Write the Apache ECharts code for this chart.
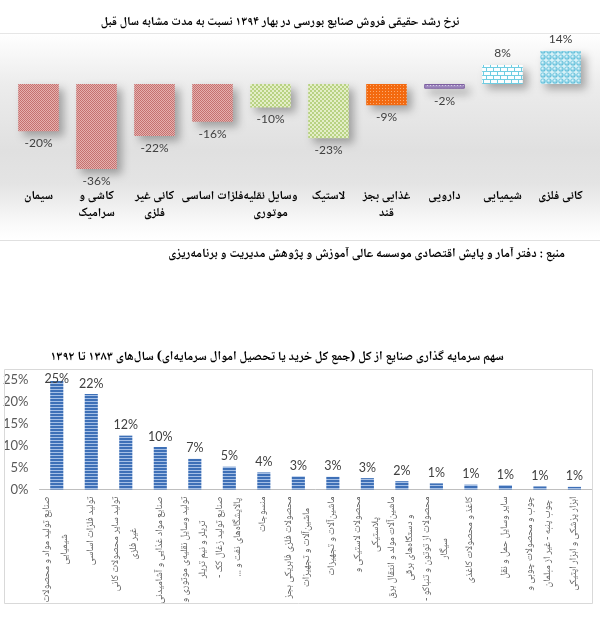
<!DOCTYPE html>
<html><head><meta charset="utf-8">
<script src="https://cdn.jsdelivr.net/npm/echarts@6/dist/echarts.min.js"></script>
<style>html,body{margin:0;padding:0;background:#fff}#c{width:600px;height:629px}</style>
</head><body><div id="c"></div><script>
// ---- Chart 1 data ----
const growthTitle = 'نرخ رشد حقیقی فروش صنایع بورسی در بهار ۱۳۹۴ نسبت به مدت مشابه سال قبل';
const growthCategories = ['سیمان','کاشی و\nسرامیک','کانی غیر\nفلزی','فلزات اساسی','وسایل نقلیه\nموتوری','لاستیک','غذایی بجز\nقند','دارویی','شیمیایی','کانی فلزی'];
const growthValues = [-20,-36,-22,-16,-10,-23,-9,-2,8,14];
const sourceText = 'منبع : دفتر آمار و پایش اقتصادی موسسه عالی آموزش و پژوهش مدیریت و برنامه‌ریزی';
// ---- Chart 2 data ----
const shareTitle = 'سهم سرمایه گذاری صنایع از کل (جمع کل خرید یا تحصیل اموال سرمایه‌ای) سال‌های ۱۳۸۳ تا ۱۳۹۲';
const shareCategories = [
 'صنایع تولید مواد و محصولات\nشیمیایی','تولید فلزات اساسی','تولید سایر محصولات کانی\nغیر فلزی','صنایع مواد غذایی و آشامیدنی',
 'تولید وسایل نقلیه‌ی موتوری و\nتریلر و نیم تریلر','صنایع تولید زغال کک -\nپالایشگاه‌های نفت و ...','منسوجات','محصولات فلزی فابریکی بجز\nماشین‌آلات و تجهیزات',
 'ماشین‌آلات و تجهیزات','محصولات لاستیکی و\nپلاستیکی','ماشین‌آلات مولد و انتقال برق\nو دستگاه‌های برقی','محصولات از توتون و تنباکو -\nسیگار',
 'کاغذ و محصولات کاغذی','سایر وسایل حمل و نقل','چوب و محصولات چوبی و\nچوب پنبه - غیر از مبلمان','ابزار پزشکی و ابزار اپتیکی'];
const shareValues = [24.8,21.8,12.3,9.7,7.0,5.2,3.9,3.0,2.9,2.6,1.9,1.4,1.1,1.0,0.7,0.6];
const shareTicks = [0,5,10,15,20,25];

// ---- styles ----
const barPatterns = ['pink','pink','pink','pink','green','green','orange','purple','brick','sphere'];
function pat(w,h,draw){const c=document.createElement('canvas');c.width=w;c.height=h;const g=c.getContext('2d');draw(g);return {image:c,repeat:'repeat'};}
const P = {
 pink: pat(2,2,g=>{g.fillStyle='#e6b0ae';g.fillRect(0,0,2,2);g.fillStyle='#c4716f';g.fillRect(0,0,1,1);g.fillRect(1,1,1,1);}),
 green: pat(4,4,g=>{g.fillStyle='#e4eec8';g.fillRect(0,0,4,4);g.fillStyle='#b8d283';g.fillRect(0,0,2,2);g.fillRect(2,2,2,2);}),
 orange: pat(3,3,g=>{g.fillStyle='#f36a10';g.fillRect(0,0,3,3);g.fillStyle='#fbab72';g.fillRect(1,1,1,1);}),
 purple: pat(3,3,g=>{g.fillStyle='#a58fc6';g.fillRect(0,0,3,3);g.fillStyle='#ddd3ec';g.fillRect(1,1,1,1);}),
 brick: pat(14,8,g=>{g.fillStyle='#fbfeff';g.fillRect(0,0,14,8);g.fillStyle='#6fcde2';g.fillRect(0,3,14,1);g.fillRect(0,7,14,1);g.fillRect(0,0,1,3);g.fillRect(7,0,1,3);g.fillRect(3,4,1,3);g.fillRect(10,4,1,3);}),
 sphere: pat(6,6,g=>{g.fillStyle='#d8f1f7';g.fillRect(0,0,6,6);const r=g.createRadialGradient(2.4,2.4,0.3,3,3,2.8);r.addColorStop(0,'#d9f3fa');r.addColorStop(1,'#45b2d2');g.fillStyle=r;g.beginPath();g.arc(3,3,2.6,0,Math.PI*2);g.fill();}),
 blue: pat(1,3,g=>{g.fillStyle='#3e70b7';g.fillRect(0,0,1,3);g.fillStyle='#a6c0e6';g.fillRect(0,2,1,1);})
};
const FA = '"Noto Naskh Arabic", "Vazirmatn", "DejaVu Sans"';
const NUM = 'Lato';
const R = s => '\u200F' + s + '\u200F';

const chart = echarts.init(document.getElementById('c'), null, {renderer:'canvas'});
chart.setOption({
 animation:false,
 backgroundColor:'#ffffff',
 graphic:[
  {type:'rect', z:0, shape:{x:0,y:33,width:600,height:207}, style:{fill:{type:'linear',x:0,y:0,x2:0,y2:1,colorStops:[
    {offset:0,color:'#ffffff'},{offset:0.25,color:'#ececec'},{offset:0.57,color:'#e0e0e0'},{offset:0.73,color:'#e4e4e4'},{offset:0.93,color:'#fafafa'},{offset:1,color:'#ffffff'}]}}},
  {type:'line', z:1, shape:{x1:0,y1:33.5,x2:600,y2:33.5}, style:{stroke:'#e6e6e6',lineWidth:1}},
  {type:'line', z:1, shape:{x1:0,y1:240.5,x2:600,y2:240.5}, style:{stroke:'#e0e0e0',lineWidth:1}},
  {type:'text', z:3, style:{text:R(growthTitle),x:280,y:23,align:'center',verticalAlign:'middle',fontFamily:FA,fontWeight:'bold',fontSize:12.2,fill:'#000'}},
  {type:'text', z:3, style:{text:R(sourceText),x:565,y:255,align:'right',verticalAlign:'middle',fontFamily:FA,fontWeight:'bold',fontSize:12.6,fill:'#000'}},
  {type:'text', z:3, style:{text:R(shareTitle),x:277,y:358,align:'center',verticalAlign:'middle',fontFamily:FA,fontWeight:'bold',fontSize:12.6,fill:'#000'}},
  {type:'rect', z:1, shape:{x:4.5,y:369.5,width:588,height:234}, style:{fill:null,stroke:'#d9d9d9',lineWidth:1}}
 ],
 grid:[
  {left:9.5,width:580,top:36.8,height:141.6},
  {left:37,width:554.7,top:380,height:109.5}
 ],
 xAxis:[
  {gridIndex:0,type:'category',data:growthCategories,axisLine:{show:false,onZero:false},axisTick:{show:false},
   axisLabel:{interval:0,margin:11,fontFamily:FA,fontWeight:'bold',fontSize:12.3,lineHeight:17,color:'#000',
    formatter:v=>v.split('\n').map(R).join('\n')}},
  {gridIndex:1,type:'category',data:shareCategories,axisLine:{show:true,lineStyle:{color:'#bfbfbf',width:1}},axisTick:{show:false},
   axisLabel:{interval:0,rotate:90,margin:7,color:'#595959',fontFamily:FA,fontSize:10,lineHeight:18,
    formatter:v=>v.split('\n').map(s=>'{c|'+R(s)+'}').join('\n'),
    rich:{c:{align:'center',fontFamily:FA,fontSize:10,color:'#595959',lineHeight:18}}}}
 ],
 yAxis:[
  {gridIndex:0,type:'value',min:-40,max:20,show:false,splitLine:{show:false}},
  {gridIndex:1,type:'value',min:0,max:25,interval:5,axisLine:{show:false},axisTick:{show:false},splitLine:{show:false},
   axisLabel:{margin:11,formatter:'{value}%',fontFamily:NUM,fontSize:13,color:'#595959'}}
 ],
 series:[
  {type:'bar',xAxisIndex:0,yAxisIndex:0,barWidth:'70%',z:2,
   data:growthValues.map((v,i)=>({value:v,
     itemStyle:{color:P[barPatterns[i]],borderColor:barPatterns[i]==='purple'?'#7d5fa0':'transparent',borderWidth:barPatterns[i]==='purple'?1:0},
     label:{position:v<0?'bottom':'top'}})),
   itemStyle:{shadowColor:'rgba(0,0,0,0.3)',shadowBlur:8,shadowOffsetX:5,shadowOffsetY:5},
   label:{show:true,distance:6,formatter:p=>p.value+'%',fontFamily:NUM,fontSize:12,color:'#404040'}},
  {type:'bar',xAxisIndex:1,yAxisIndex:1,barWidth:'38%',z:2,
   data:shareValues.map((v,i)=>({value:v,label:i===0?{offset:[0,9]}:{}})),
   itemStyle:{color:P.blue},
   label:{show:true,position:'top',distance:4,formatter:p=>Math.round(p.value)+'%',fontFamily:NUM,fontSize:12.5,color:'#404040'}}
 ]
});
</script></body></html>
